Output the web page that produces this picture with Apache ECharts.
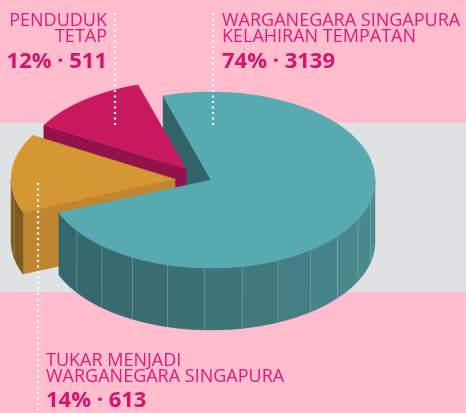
<!DOCTYPE html>
<html>
<head>
<meta charset="utf-8">
<script src="https://cdn.jsdelivr.net/npm/echarts@6/dist/echarts.min.js"></script>
<style>
  html, body { margin: 0; padding: 0; background: #FFBDCE; }
  #chart { width: 466px; height: 413px; }
</style>
</head>
<body>
<div id="chart"></div>
<script>
// data
var categories = ['WARGANEGARA SINGAPURA\nKELAHIRAN TEMPATAN', 'TUKAR MENJADI\nWARGANEGARA SINGAPURA', 'PENDUDUK\nTETAP'];
var values = [3139, 613, 511];
var percents = [74, 14, 12];

// look of the slices
var topColors = ['#57AAB0', '#D59634', '#C8195F'];
var wallColors = ['#33636A', '#BF8530', '#931249'];
var sideDark = ['#35676B', '#7D5B1F', '#7A0F3C'];
var sideLight = ['#4A8C91', '#7D5B1F', '#7A0F3C'];
var explode = [0, 36, 40];

var CX = 211, CY = 180, RX = 164, RY = 88, DEPTH = 62, START = 253;
var total = values.reduce(function (a, b) { return a + b; }, 0);
var rad = Math.PI / 180;

function mix(c1, c2, t) {
  var a = parseInt(c1.slice(1), 16), b = parseInt(c2.slice(1), 16);
  var r = Math.round(((a >> 16) & 255) * (1 - t) + ((b >> 16) & 255) * t);
  var g = Math.round(((a >> 8) & 255) * (1 - t) + ((b >> 8) & 255) * t);
  var bl = Math.round((a & 255) * (1 - t) + (b & 255) * t);
  return 'rgb(' + r + ',' + g + ',' + bl + ')';
}

function sliceAngles(idx, v) {
  var cum = 0;
  for (var i = 0; i < idx; i++) cum += values[i];
  var a0 = START + cum / total * 360;
  return [a0, a0 + v / total * 360];
}

function renderItem(params, api) {
  var i = params.dataIndex;
  var ang = sliceAngles(i, api.value(0));
  var a0 = ang[0], a1 = ang[1], mid = (a0 + a1) / 2;
  var vx = CX + explode[i] * Math.cos(mid * rad);
  var vy = CY + explode[i] * Math.sin(mid * rad) * 0.35;
  function P(t, d) { return [vx + RX * Math.cos(t * rad), vy + RY * Math.sin(t * rad) + (d || 0)]; }

  // back-to-front rank of this slice
  var mids = values.map(function (val, k) {
    var an = sliceAngles(k, val);
    return Math.sin((an[0] + an[1]) / 2 * rad);
  });
  var rank = mids.filter(function (m) { return m < mids[i]; }).length;

  var children = [];

  // radial walls facing the viewer
  [[a0, -Math.cos(a0 * rad)], [a1, Math.cos(a1 * rad)]].forEach(function (w) {
    if (w[1] <= 0) return;
    var e = P(w[0]);
    children.push({
      type: 'polygon',
      z2: 10 + Math.round((vy + e[1]) / 2),
      shape: { points: [[vx, vy], e, [e[0], e[1] + DEPTH], [vx, vy + DEPTH]] },
      style: { fill: wallColors[i], stroke: wallColors[i], lineWidth: 0.5 }
    });
  });

  // outer curved side, front half only, in facets
  for (var k = -1; k <= 2; k++) {
    var s = Math.max(a0, 360 * k), t = Math.min(a1, 360 * k + 180);
    if (t <= s) continue;
    var n = Math.max(1, Math.round((t - s) / 13));
    for (var j = 0; j < n; j++) {
      var f0 = s + (t - s) * j / n, f1 = s + (t - s) * (j + 1) / n;
      var pts = [];
      for (var q = 0; q <= 6; q++) pts.push(P(f0 + (f1 - f0) * q / 6));
      for (q = 6; q >= 0; q--) pts.push(P(f0 + (f1 - f0) * q / 6, DEPTH));
      var shade = (Math.cos((f0 + f1) / 2 * rad) + 1) / 2;
      var col = mix(sideDark[i], sideLight[i], Math.pow(shade, 1.5));
      children.push({
        type: 'polygon', z2: 200 + rank * 10,
        shape: { points: pts },
        style: { fill: col, stroke: col, lineWidth: 0.5 }
      });
      if (j > 0) {
        children.push({
          type: 'line', z2: 201 + rank * 10,
          shape: { x1: P(f0)[0], y1: P(f0)[1], x2: P(f0)[0], y2: P(f0, DEPTH)[1] },
          style: { stroke: 'rgba(255,255,255,0.2)', lineWidth: 1 }
        });
      }
    }
  }

  // top face
  var top = [[vx, vy]];
  var steps = Math.ceil((a1 - a0) / 2);
  for (var m = 0; m <= steps; m++) top.push(P(a0 + (a1 - a0) * m / steps));
  children.push({
    type: 'polygon', z2: 205 + rank * 10,
    shape: { points: top },
    style: { fill: topColors[i], stroke: topColors[i], lineWidth: 0.5 }
  });

  return { type: 'group', children: children };
}

var textColor = '#E0197A';
var numColor = '#D6126F';
var FONT = '"Open Sans", sans-serif';

function label(x, yHead, yNum, align, idx) {
  return [{
    type: 'text', x: x, y: yHead,
    style: {
      text: categories[idx], fill: textColor, font: '400 18px ' + FONT,
      align: align, verticalAlign: 'top', lineHeight: 16
    }
  }, {
    type: 'text', x: x, y: yNum,
    style: {
      text: percents[idx] + '% \u00B7 ' + values[idx], fill: numColor,
      font: '700 22px ' + FONT, align: align, verticalAlign: 'top'
    }
  }];
}

function dots(x, y1, y2) {
  return {
    type: 'line', z: 10,
    shape: { x1: x, y1: y1, x2: x, y2: y2 },
    style: { stroke: '#FFFFFF', lineWidth: 2.2, lineDash: [2, 3.5] }
  };
}

var chart = echarts.init(document.getElementById('chart'));
chart.setOption({
  backgroundColor: '#FFBDCE',
  animation: false,
  graphic: [
    { type: 'rect', z: -10, silent: true, shape: { x: 0, y: 123, width: 466, height: 169 }, style: { fill: '#E0E1E3' } },
    dots(115, 13, 128),
    dots(213, 13, 128),
    dots(38, 183, 413)
  ].concat(label(107, 13, 51, 'right', 2), label(222, 13, 51, 'left', 0), label(46, 353, 390, 'left', 1)),
  series: [{
    type: 'custom',
    coordinateSystem: 'none',
    silent: true,
    renderItem: renderItem,
    data: values
  }]
});
</script>
</body>
</html>
